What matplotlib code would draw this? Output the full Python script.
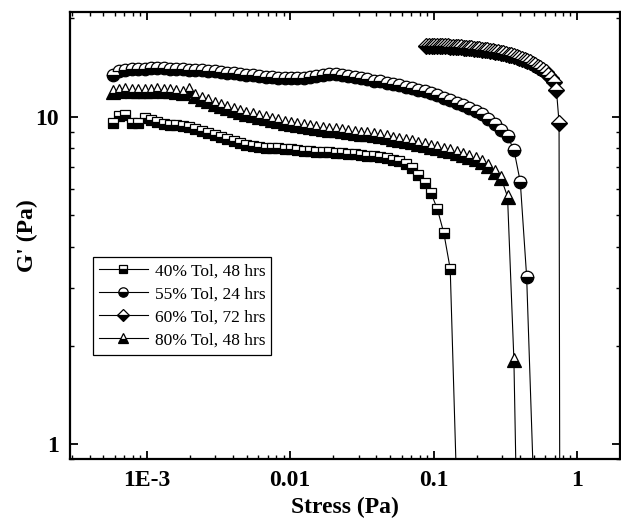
import matplotlib
matplotlib.use('Agg')
import matplotlib.pyplot as plt
from matplotlib.ticker import FixedLocator, FuncFormatter, LogLocator, NullFormatter

# stress sweep points (Pa), shared by the 40, 55 and 80 % runs
stress = [5.794e-4, 6.418e-4, 7.109e-4, 7.875e-4, 8.723e-4, 9.661e-4, 1.070e-3, 1.185e-3,
          1.313e-3, 1.454e-3, 1.611e-3, 1.784e-3, 1.976e-3, 2.189e-3, 2.425e-3, 2.685e-3,
          2.975e-3, 3.295e-3, 3.650e-3, 4.043e-3, 4.477e-3, 4.959e-3, 5.493e-3, 6.085e-3,
          6.740e-3, 7.464e-3, 8.268e-3, 9.158e-3, 1.0144e-2, 1.1236e-2, 1.2445e-2, 1.3785e-2,
          1.5269e-2, 1.6912e-2, 1.8733e-2, 2.0749e-2, 2.2983e-2, 2.5457e-2, 2.8198e-2, 3.1233e-2,
          3.4594e-2, 3.8318e-2, 4.2443e-2, 4.7011e-2, 5.2072e-2, 5.7677e-2, 6.3886e-2, 7.0763e-2,
          7.8380e-2, 8.6818e-2, 9.6164e-2, 0.10651, 0.11798, 0.13068, 0.14475, 0.16032,
          0.17759, 0.19670, 0.21787, 0.24133, 0.26730, 0.29608, 0.32795, 0.36325,
          0.40236, 0.44566, 0.49363]

g_40 = [9.55, 10.05, 10.1, 9.6, 9.6, 9.9, 9.75, 9.62, 9.53, 9.46,
        9.42, 9.37, 9.28, 9.19, 9.05, 8.92, 8.8, 8.67, 8.55, 8.44,
        8.32, 8.22, 8.13, 8.07, 8.02, 8.02, 8.02, 7.99, 7.95, 7.9,
        7.86, 7.84, 7.82, 7.8, 7.78, 7.76, 7.73, 7.7, 7.67, 7.63,
        7.6, 7.57, 7.53, 7.47, 7.4, 7.3, 7.15, 6.95, 6.65, 6.27,
        5.84, 5.21, 4.41, 3.43, 0.75]

g_55 = [13.4, 13.8, 13.9, 14.0, 13.95, 14.0, 14.1, 14.05, 14.05, 14.0,
        14.0, 13.95, 13.9, 13.9, 13.85, 13.8, 13.75, 13.7, 13.65, 13.6,
        13.5, 13.45, 13.4, 13.3, 13.25, 13.2, 13.15, 13.1, 13.1, 13.1,
        13.15, 13.25, 13.35, 13.45, 13.5, 13.5, 13.45, 13.35, 13.25, 13.15,
        13.0, 12.9, 12.85, 12.7, 12.6, 12.5, 12.35, 12.2, 12.1, 11.95,
        11.8, 11.65, 11.45, 11.25, 11.05, 10.85, 10.65, 10.45, 10.2, 9.85,
        9.5, 9.1, 8.71, 7.93, 6.33, 3.25, 0.85]

g_80 = [11.9, 12.0, 12.1, 12.0, 12.0, 11.95, 12.0, 12.05, 12.0, 11.95,
        11.9, 11.85, 12.1, 11.6, 11.35, 11.15, 10.95, 10.8, 10.65, 10.5,
        10.35, 10.2, 10.1, 9.98, 9.88, 9.78, 9.68, 9.6, 9.52, 9.45,
        9.38, 9.32, 9.26, 9.2, 9.13, 9.08, 9.03, 8.98, 8.93, 8.88,
        8.83, 8.77, 8.72, 8.66, 8.58, 8.5, 8.43, 8.36, 8.28, 8.2,
        8.1, 8.0, 7.92, 7.84, 7.75, 7.66, 7.56, 7.42, 7.27, 7.05,
        6.8, 6.48, 5.7, 1.81, 0.16]

# the 60 % run has its own, denser sweep
stress_60 = [0.08913, 0.09300, 0.09705, 0.10127, 0.10568, 0.11028, 0.11508, 0.12009,
             0.12531, 0.13077, 0.13646, 0.14239, 0.14859, 0.15506, 0.16181, 0.16885,
             0.17620, 0.18386, 0.19187, 0.20022, 0.20893, 0.21803, 0.22751, 0.23742,
             0.24774, 0.25852, 0.26977, 0.28150, 0.29376, 0.30654, 0.31989, 0.33381,
             0.34834, 0.36350, 0.37931, 0.39582, 0.41305, 0.43102, 0.44978, 0.46935,
             0.48978, 0.51110, 0.53333, 0.55654, 0.58076, 0.60604, 0.63241, 0.65993,
             0.68865, 0.71862, 0.74989, 0.78]
g_60 = [16.5, 16.5, 16.5, 16.48, 16.46, 16.45, 16.43, 16.42, 16.4, 16.38,
        16.36, 16.34, 16.32, 16.3, 16.27, 16.24, 16.21, 16.18, 16.15, 16.12,
        16.08, 16.04, 16.0, 15.96, 15.92, 15.87, 15.82, 15.76, 15.7, 15.63,
        15.56, 15.48, 15.4, 15.31, 15.22, 15.12, 15.01, 14.9, 14.78, 14.65,
        14.52, 14.38, 14.23, 14.07, 13.9, 13.7, 13.45, 13.15, 12.75, 12.1,
        9.6, 0.001]

plt.rcParams['font.family'] = ['Liberation Serif', 'DejaVu Serif']

fig = plt.figure(figsize=(6.21, 5.21), dpi=100)
ax = fig.add_axes([0.1127, 0.1190, 0.8857, 0.8580])

style = dict(color='black', lw=0.8, mfc='black', mfcalt='white', mec='black',
             mew=0.9, fillstyle='bottom')
ax.plot(stress[:len(g_40)], g_40, marker='s', ms=7.5, label='40% Tol, 48 hrs', **style)
ax.plot(stress[:len(g_55)], g_55, marker='o', ms=9, label='55% Tol, 24 hrs', **style)
ax.plot(stress_60, g_60, marker='D', ms=8, label='60% Tol, 72 hrs', **style)
ax.plot(stress[:len(g_80)], g_80, marker='^', ms=10, label='80% Tol, 48 hrs', **style)

ax.set_xscale('log')
ax.set_yscale('log')
ax.set_xlim(2.92e-4, 1.995)
ax.set_ylim(0.9, 20.9)

xlabels = {1e-3: '1E-3', 1e-2: '0.01', 1e-1: '0.1', 1.0: '1'}
ax.xaxis.set_major_locator(FixedLocator(list(xlabels.keys())))
ax.xaxis.set_major_formatter(FuncFormatter(lambda v, p: xlabels.get(round(v, 6), '')))
ax.xaxis.set_minor_locator(LogLocator(base=10, subs=range(2, 10), numticks=20))
ax.xaxis.set_minor_formatter(NullFormatter())
ylabels = {1.0: '1', 10.0: '10'}
ax.yaxis.set_major_locator(FixedLocator([1.0, 10.0]))
ax.yaxis.set_major_formatter(FuncFormatter(lambda v, p: ylabels.get(round(v, 6), '')))
ax.yaxis.set_minor_locator(LogLocator(base=10, subs=range(2, 10), numticks=20))
ax.yaxis.set_minor_formatter(NullFormatter())

ax.tick_params(which='both', direction='in', top=True, right=True)
ax.tick_params(which='major', length=6, width=1.3, labelsize=17, pad=8)
ax.tick_params(which='minor', length=3, width=1.0)
for lab in ax.get_xticklabels() + ax.get_yticklabels():
    lab.set_fontweight('bold')
for sp in ax.spines.values():
    sp.set_linewidth(1.6)

ax.set_xlabel('Stress (Pa)', fontsize=17, fontweight='bold', labelpad=4)
ax.set_ylabel("G' (Pa)", fontsize=17, fontweight='bold', labelpad=-2)

leg = ax.legend(loc='upper left', bbox_to_anchor=(0.042, 0.452), borderaxespad=0,
                fontsize=12.5, fancybox=False, framealpha=1, edgecolor='black',
                handlelength=2.8, labelspacing=0.4, borderpad=0.35, handletextpad=0.4,
                markerscale=0.75)
leg.get_frame().set_linewidth(0.9)

fig.savefig('out.png', dpi=100)
